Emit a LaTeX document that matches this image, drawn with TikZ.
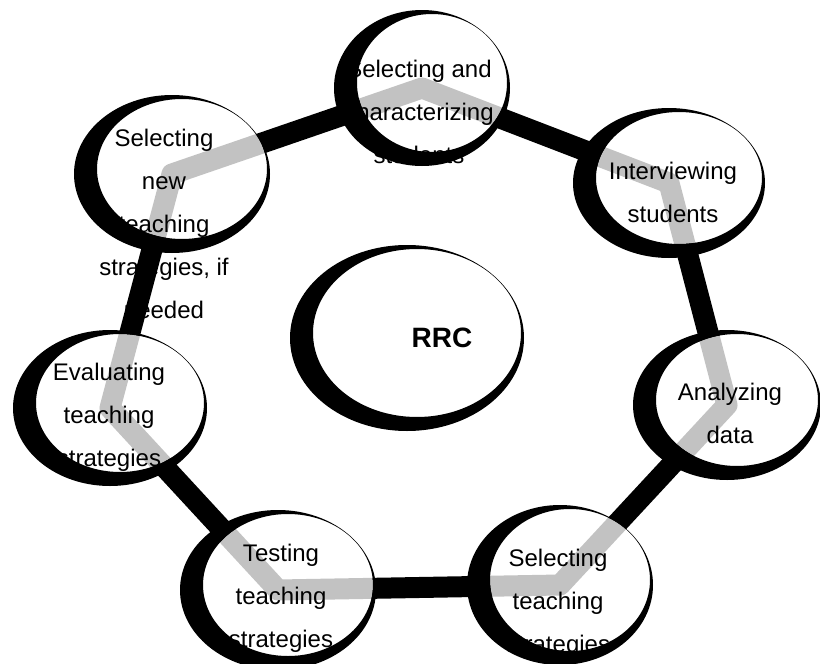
\documentclass[tikz,border=0pt]{standalone}
\usepackage{fontspec}
\setmainfont{Liberation Sans}
\usetikzlibrary{backgrounds}
\tikzset{
  ring/.style={draw=black,line width=21pt,line join=round},
  disc/.style={fill=white,fill opacity=0.76},
  rim/.style={fill=black,even odd rule},
  lbl/.style={font=\fontsize{24}{43}\selectfont,align=center,inner sep=0pt},
}
% #1 name, #2/#3 centre, #4/#5 radii, #6 label position, #7 label
\newcommand{\stage}[7]{%
  \coordinate (#1) at (#2,#3);
  \fill[disc] ([shift={(10,-5)}]#1) ellipse [x radius=#4-13, y radius=#5-9];
  \node[lbl] (#1-t) at (#6) {#7};
  \fill[rim] (#1) ellipse [x radius=#4, y radius=#5]
    ([shift={(10,-5)}]#1) ellipse [x radius=#4-13, y radius=#5-9];
}

\begin{document}
\begin{tikzpicture}[x=1pt,y=-1pt]
  \useasboundingbox (0,0) rectangle (820,664);
  \clip (0,0) rectangle (820,664);
  \stage{sel}{422}{88}{88}{78}{419,112}{Selecting and\\characterizing\\students}
  \stage{intv}{669}{183}{96}{75}{673,192}{Interviewing\\students}
  \stage{anl}{727}{405}{94}{75}{730,413}{Analyzing\\data}
  \stage{sts}{560}{585}{93}{80}{558,603}{Selecting\\teaching\\strategies}
  \stage{tst}{278}{590}{98}{80}{281,598}{Testing\\teaching\\strategies}
  \stage{evl}{110}{408}{97}{78}{109,417}{Evaluating\\teaching\\strategies}
  \stage{nst}{172}{174}{98}{79}{164,224}{Selecting\\new\\teaching\\strategies, if\\needed}
  \stage{rrc}{407}{338}{117}{93}{442,338}{\bfseries\fontsize{28}{34}\selectfont RRC}
  \begin{scope}[on background layer]
    \fill[white] (0,0) rectangle (820,664);
    \draw[ring] (sel) -- (intv) -- (anl) -- (sts) -- (tst) -- (evl) -- (nst) -- cycle;
  \end{scope}
\end{tikzpicture}
\end{document}
